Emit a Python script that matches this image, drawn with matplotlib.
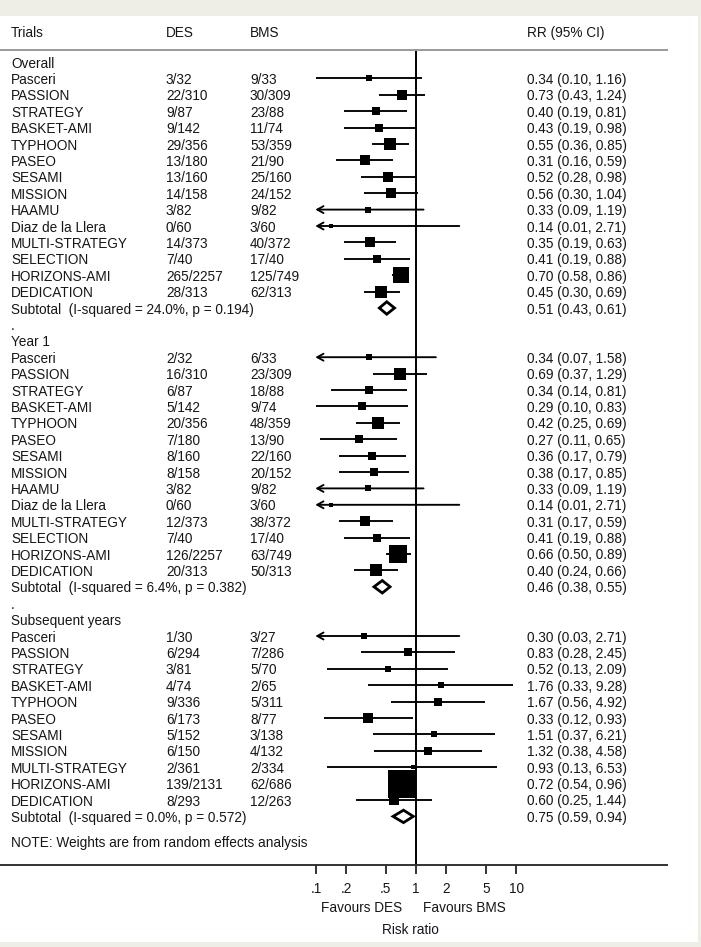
import numpy as np
import matplotlib
matplotlib.use("Agg")
import matplotlib.pyplot as plt
from matplotlib.transforms import blended_transform_factory
from matplotlib.patches import Polygon

plt.rcParams['font.family'] = ['Liberation Sans', 'DejaVu Sans']

# ---------------- data ----------------
overall_trials = ["Pasceri", "PASSION", "STRATEGY", "BASKET-AMI", "TYPHOON", "PASEO", "SESAMI",
                  "MISSION", "HAAMU", "Diaz de la Llera", "MULTI-STRATEGY", "SELECTION",
                  "HORIZONS-AMI", "DEDICATION"]
overall_des = ["3/32", "22/310", "9/87", "9/142", "29/356", "13/180", "13/160", "14/158", "3/82",
               "0/60", "14/373", "7/40", "265/2257", "28/313"]
overall_bms = ["9/33", "30/309", "23/88", "11/74", "53/359", "21/90", "25/160", "24/152", "9/82",
               "3/60", "40/372", "17/40", "125/749", "62/313"]
overall_rr = [0.34, 0.73, 0.40, 0.43, 0.55, 0.31, 0.52, 0.56, 0.33, 0.14, 0.35, 0.41, 0.70, 0.45]
overall_lo = [0.10, 0.43, 0.19, 0.19, 0.36, 0.16, 0.28, 0.30, 0.09, 0.01, 0.19, 0.19, 0.58, 0.30]
overall_hi = [1.16, 1.24, 0.81, 0.98, 0.85, 0.59, 0.98, 1.04, 1.19, 2.71, 0.63, 0.88, 0.86, 0.69]
overall_w = [3.0, 8.3, 5.3, 4.0, 10.0, 6.7, 6.7, 6.7, 2.1, 0.7, 6.7, 5.3, 21.1, 11.9]
overall_sub = [0.51, 0.43, 0.61]
overall_sub_label = "Subtotal  (I-squared = 24.0%, p = 0.194)"

year1_trials = list(overall_trials)
year1_des = ["2/32", "16/310", "6/87", "5/142", "20/356", "7/180", "8/160", "8/158", "3/82",
             "0/60", "12/373", "7/40", "126/2257", "20/313"]
year1_bms = ["6/33", "23/309", "18/88", "9/74", "48/359", "13/90", "22/160", "20/152", "9/82",
             "3/60", "38/372", "17/40", "63/749", "50/313"]
year1_rr = [0.34, 0.69, 0.34, 0.29, 0.42, 0.27, 0.36, 0.38, 0.33, 0.14, 0.31, 0.41, 0.66, 0.40]
year1_lo = [0.07, 0.37, 0.14, 0.10, 0.25, 0.11, 0.17, 0.17, 0.09, 0.01, 0.17, 0.19, 0.50, 0.24]
year1_hi = [1.58, 1.29, 0.81, 0.83, 0.69, 0.65, 0.79, 0.85, 1.19, 2.71, 0.59, 0.88, 0.89, 0.66]
year1_w = [2.0, 9.7, 5.2, 3.9, 11.6, 5.2, 5.2, 5.2, 2.0, 0.7, 6.5, 5.2, 26.1, 11.6]
year1_sub = [0.46, 0.38, 0.55]
year1_sub_label = "Subtotal  (I-squared = 6.4%, p = 0.382)"

later_trials = ["Pasceri", "PASSION", "STRATEGY", "BASKET-AMI", "TYPHOON", "PASEO", "SESAMI",
                "MISSION", "MULTI-STRATEGY", "HORIZONS-AMI", "DEDICATION"]
later_des = ["1/30", "6/294", "3/81", "4/74", "9/336", "6/173", "5/152", "6/150", "2/361",
             "139/2131", "8/293"]
later_bms = ["3/27", "7/286", "5/70", "2/65", "5/311", "8/77", "3/138", "4/132", "2/334",
             "62/686", "12/263"]
later_rr = [0.30, 0.83, 0.52, 1.76, 1.67, 0.33, 1.51, 1.32, 0.93, 0.72, 0.60]
later_lo = [0.03, 0.28, 0.13, 0.33, 0.56, 0.12, 0.37, 0.38, 0.13, 0.54, 0.25]
later_hi = [2.71, 2.45, 2.09, 9.28, 4.92, 0.93, 6.21, 4.58, 6.53, 0.96, 1.44]
later_w = [1.9, 5.0, 2.8, 2.8, 5.0, 6.3, 2.8, 3.8, 1.2, 60.7, 7.7]
later_sub = [0.75, 0.59, 0.94]
later_sub_label = "Subtotal  (I-squared = 0.0%, p = 0.572)"

groups = [
    ("Overall", overall_trials, overall_des, overall_bms, overall_rr, overall_lo, overall_hi,
     overall_w, overall_sub, overall_sub_label),
    ("Year 1", year1_trials, year1_des, year1_bms, year1_rr, year1_lo, year1_hi,
     year1_w, year1_sub, year1_sub_label),
    ("Subsequent years", later_trials, later_des, later_bms, later_rr, later_lo, later_hi,
     later_w, later_sub, later_sub_label),
]

x_ticks = [0.1, 0.2, 0.5, 1, 2, 5, 10]
x_tick_labels = [".1", ".2", ".5", "1", "2", "5", "10"]
col_headers = ["Trials", "DES", "BMS", "RR (95% CI)"]
note_text = "NOTE: Weights are from random effects analysis"

# ---------------- layout ----------------
W, H = 701, 947
fig = plt.figure(figsize=(W / 100, H / 100), dpi=100)
fig.patch.set_facecolor('#efeee6')

panel_l, panel_r, panel_t, panel_b = 0, 698, 16, 942
ax = fig.add_axes([panel_l / W, (H - panel_b) / H, (panel_r - panel_l) / W, (panel_b - panel_t) / H])
ax.set_facecolor('white')
for s in ax.spines.values():
    s.set_visible(False)
ax.set_xscale('log')

x_one_px = 416.0   # pixel position of RR = 1
px_per_dec = 100.0
ax.set_xlim(10 ** ((panel_l - x_one_px) / px_per_dec), 10 ** ((panel_r - x_one_px) / px_per_dec))
ax.set_xticks([])
ax.set_xticks([], minor=True)
ax.set_yticks([])
ax.tick_params(which='both', length=0, labelbottom=False, labelleft=False)

row0_px = 62.0
row_h = 16.4
ax.set_ylim((panel_b - row0_px) / row_h, (panel_t - row0_px) / row_h)

tr = blended_transform_factory(ax.transAxes, ax.transData)
def px(x):
    return (x - panel_l) / (panel_r - panel_l)
def xval(p):
    return 10 ** ((p - x_one_px) / px_per_dec)

col_x = [px(11), px(166), px(250), px(527)]
fs = 9.8
ink = '#161616'
VA = 'center_baseline'

# header
y_head = (31 - row0_px) / row_h
for cx, t in zip(col_x, col_headers):
    ax.text(cx, y_head, t, transform=tr, fontsize=fs, va=VA, ha='left', color=ink)
y_hline = (50 - row0_px) / row_h
ax.plot([px(0), px(668)], [y_hline, y_hline], transform=tr, color='#9a9a9a', lw=1.4,
        solid_capstyle='butt')

lw_ci = 1.35
scale_k = 3.48 * 0.72  # pts per sqrt(weight)
xmin_plot = 0.1

row = 0
for gi, (title, trials, des, bms, rr, lo, hi, w, sub, sub_label) in enumerate(groups):
    if gi > 0:
        ax.text(col_x[0], row, ".", transform=tr, fontsize=fs, va=VA, ha='left', color=ink)
        row += 1
    ax.text(col_x[0], row, title, transform=tr, fontsize=fs, va=VA, ha='left', color=ink)
    row += 1
    for i in range(len(trials)):
        y = row
        ax.text(col_x[0], y, trials[i], transform=tr, fontsize=fs, va=VA, ha='left', color=ink)
        ax.text(col_x[1], y, des[i], transform=tr, fontsize=fs, va=VA, ha='left', color=ink)
        ax.text(col_x[2], y, bms[i], transform=tr, fontsize=fs, va=VA, ha='left', color=ink)
        ax.text(col_x[3], y, f"{rr[i]:.2f} ({lo[i]:.2f}, {hi[i]:.2f})", transform=tr,
                fontsize=fs, va=VA, ha='left', color=ink)
        if lo[i] < xmin_plot - 1e-9:
            ax.annotate('', xy=(xmin_plot * 0.985, y), xytext=(hi[i], y),
                        arrowprops=dict(arrowstyle='->,head_length=0.45,head_width=0.25',
                                        lw=lw_ci, color='black', shrinkA=0, shrinkB=0),
                        zorder=2)
        else:
            ax.plot([lo[i], hi[i]], [y, y], color='black', lw=lw_ci, zorder=2,
                    solid_capstyle='butt')
        side = scale_k * np.sqrt(w[i]) + 0.7
        ax.scatter([rr[i]], [y], marker='s', s=side ** 2, color='black', linewidths=0, zorder=3)
        row += 1
    # subtotal
    y = row
    ax.text(col_x[0], y, sub_label, transform=tr, fontsize=fs, va=VA, ha='left', color=ink)
    ax.text(col_x[3], y, f"{sub[0]:.2f} ({sub[1]:.2f}, {sub[2]:.2f})", transform=tr,
            fontsize=fs, va=VA, ha='left', color=ink)
    hh = 0.38
    diamond = Polygon([(sub[1], y), (sub[0], y - hh), (sub[2], y), (sub[0], y + hh)],
                      closed=True, facecolor='white', edgecolor='black', lw=2.0, zorder=4,
                      joinstyle='miter')
    ax.add_patch(diamond)
    row += 1

y_note = (841 - row0_px) / row_h
ax.text(col_x[0], y_note, note_text, transform=tr, fontsize=fs, va=VA, ha='left', color=ink)

# axis line + null line
y_axis = (865 - row0_px) / row_h
ax.plot([px(0), px(668)], [y_axis, y_axis], transform=tr, color='#333333', lw=1.4,
        solid_capstyle='butt')
ax.plot([1, 1], [y_hline, y_axis], color='black', lw=1.4, zorder=1)

y_tick_end = (873 - row0_px) / row_h
y_tick_lab = (887 - row0_px) / row_h
for v, lab in zip(x_ticks, x_tick_labels):
    ax.plot([v, v], [y_axis, y_tick_end], color='#333333', lw=1.4)
    ax.text(v, y_tick_lab, lab, fontsize=fs, ha='center', va=VA, color=ink)

y_fav = (906 - row0_px) / row_h
ax.text(xval(362), y_fav, "Favours DES", fontsize=fs, ha='center', va=VA, color=ink)
ax.text(xval(464), y_fav, "Favours BMS", fontsize=fs, ha='center', va=VA, color=ink)
y_rr = (928 - row0_px) / row_h
ax.text(xval(410), y_rr, "Risk ratio", fontsize=fs, ha='center', va=VA, color=ink)

fig.savefig("out.png", dpi=100, facecolor=fig.get_facecolor())
